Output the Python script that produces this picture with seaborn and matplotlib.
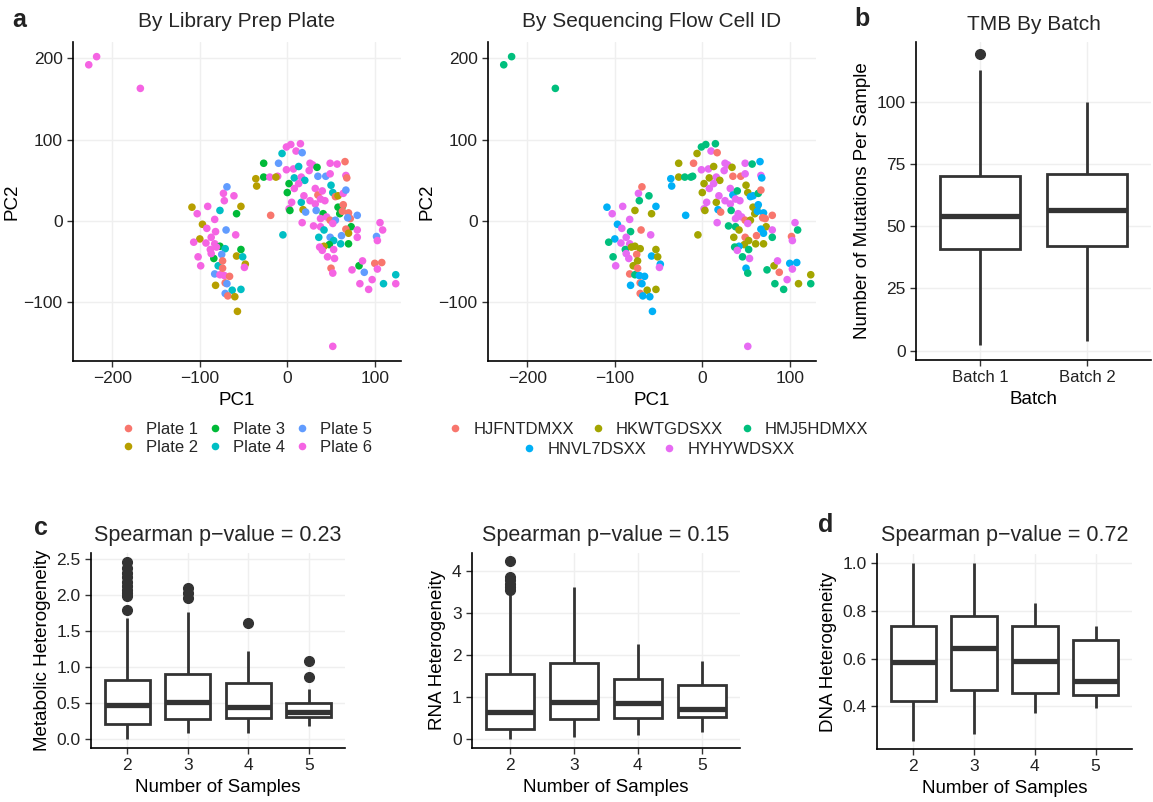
import numpy as np
import pandas as pd
import matplotlib.pyplot as plt
import seaborn as sns

# ======================
# DATA
# ======================

# PCA scores, one entry per sample
pc1 = [-227, -218, -168, 52,
       -109, -103, -91, -97, -83, -73, -69, -72, -61, -53,
       -77, -58, -92, -100, -107, -82, -70, -59, -87, -93,
       -83, -88, -77, -71, -75, -84, -102, -99, -79, -74,
       -53, -58, -51, -48, -49, -83, -77, -72, -66, -71,
       -69, -82, -63, -53, -71, -68, -60, -57, -81, -74, -87,
       -19, -27, -27, -36, -35, -20, -11, -13, -10, -6,
       -1, 4, 15, 10, 17, -1, 7, 13, 8, 16,
       20, 2, 0, 8, 13, 5, 2, 3, 16, 19,
       18, 21, 17, 26, 29, 25, 34, 35, 44, 49,
       57, 66, 49, 67, 68, 32, 35, 38, 40, 43,
       26, 32, 33, 50, 52, 55, 58, 64, 67, 58,
       63, 64, 60, 63, 70, 72, 69, 80, 73, 67,
       70, 80, 80, 70, 41, 45, 38, 49, 55, 38,
       42, 30, 52, 36, 49, 53, 62, 61, 48, 42,
       37, 40, 53, 46, 54, 50, 52, 82, 86, 74,
       88, 83, 93, 97, 100, 108, 103, 102, 103, 106,
       109, 110, 124, 124, -5]
pc2 = [192, 202, 163, -154,
       17, 9, 18, -4, 2, 34, 42, 25, 31, 18,
       13, 9, -9, -22, -26, -13, -11, -17, -20, -27,
       -28, -35, -31, -34, -41, -46, -44, -55, -55, -49,
       -35, -43, -44, -53, -57, -65, -66, -67, -68, -76,
       -77, -79, -85, -84, -89, -92, -93, -111, -32, -58, -40,
       7, 71, 54, 52, 43, 54, 55, 54, 71, 83,
       91, 94, 95, 86, 84, 63, 64, 67, 53, 54,
       50, 46, 35, 40, 46, 23, 15, 13, 23, 31,
       14, 11, -2, 71, 69, 62, 66, 55, 55, 71,
       70, 73, 58, 56, 53, 40, 32, 27, 37, 25,
       25, 21, 13, 44, 35, 30, 31, 34, 38, 17,
       18, 20, 9, 12, 10, 3, 4, 7, -7, -10,
       -15, -11, -20, -28, 9, 5, 3, 1, 1, -7,
       -11, -6, -3, -20, -20, -24, -18, -28, -29, -31,
       -32, -36, -35, -44, -46, -58, -64, -55, -49, -60,
       -63, -77, -84, -72, -52, -51, -59, -19, -24, -2,
       -11, -77, -66, -77, -17]
plate = [6, 6, 6, 6,
         2, 6, 6, 2, 6, 6, 5, 6, 6, 2,
         4, 3, 6, 2, 6, 6, 5, 6, 6, 6,
         6, 6, 3, 4, 5, 3, 6, 6, 4, 1,
         3, 2, 4, 2, 6, 5, 6, 6, 1, 1,
         5, 2, 4, 4, 5, 1, 2, 2, 6, 1, 6,
         1, 3, 3, 2, 2, 6, 6, 2, 5, 4,
         6, 6, 6, 6, 5, 6, 6, 4, 4, 6,
         4, 3, 3, 6, 6, 6, 6, 3, 4, 6,
         2, 5, 6, 6, 6, 6, 3, 5, 5, 6,
         6, 1, 6, 6, 1, 6, 1, 6, 6, 6,
         6, 6, 5, 4, 4, 1, 2, 6, 5, 3,
         3, 1, 3, 1, 1, 1, 5, 5, 3, 1,
         2, 6, 6, 3, 3, 6, 6, 1, 5, 6,
         4, 6, 6, 4, 5, 4, 5, 4, 3, 2,
         6, 6, 6, 6, 6, 1, 6, 3, 6, 6,
         5, 6, 6, 6, 1, 1, 6, 5, 6, 6,
         6, 4, 4, 6, 4]
flowcell = list("GGGP"
                "BPPBPPRGGB" "OOPBGGRPPP" "PGOORPGPOO" "OBOBPRGBBR" "BBOORBBBORP"
                "BOOBBGGGRO" "GGGPRPPOOP" "OOOPPPPOOP" "BRPPPPORRP" "GBPPBPBPGP"
                "PPGOOBBGRO" "OBOBBRRROB" "BPGOPPPROG" "OGPOROROOB" "GPGGPBGOPG"
                "RGGPBBPRPP" "GOOGO")

plate_names = ["Plate 1", "Plate 2", "Plate 3", "Plate 4", "Plate 5", "Plate 6"]
plate_colors = ["#F8766D", "#B79F00", "#00BA38", "#00BFC4", "#619CFF", "#F564E3"]
flow_codes = {"R": "HJFNTDMXX", "O": "HKWTGDSXX", "G": "HMJ5HDMXX",
              "B": "HNVL7DSXX", "P": "HYHYWDSXX"}
flow_names = ["HJFNTDMXX", "HKWTGDSXX", "HMJ5HDMXX", "HNVL7DSXX", "HYHYWDSXX"]
flow_colors = ["#F8766D", "#A3A500", "#00BF7D", "#00B0F6", "#E76BF3"]

# TMB per sample by batch
batch_labels = ["Batch 1", "Batch 2"]
tmb_batch1 = [2.4, 30, 41, 48, 54, 62, 70.3, 112.6, 119]
tmb_batch2 = [4, 42, 56.5, 71, 99.7]

# heterogeneity by number of samples
n_samples = ["2", "3", "4", "5"]
metab_2 = [0.0, 0.03, 0.05, 0.07, 0.09, 0.11, 0.13, 0.15, 0.17, 0.18, 0.20, 0.21,
           0.23, 0.25, 0.27, 0.30, 0.32, 0.35, 0.38, 0.40, 0.43, 0.45, 0.47,
           0.50, 0.53, 0.56, 0.60, 0.63, 0.66, 0.70, 0.73, 0.76, 0.79, 0.82,
           1.68, 1.79, 1.99, 2.03, 2.08, 2.13, 2.19, 2.25, 2.31, 2.38, 2.46]
metab_3 = [0.08, 0.14, 0.19, 0.24, 0.28, 0.33, 0.39, 0.45, 0.51, 0.60, 0.70, 0.80,
           0.90, 1.77, 1.97, 2.03, 2.10]
metab_4 = [0.08, 0.20, 0.29, 0.38, 0.45, 0.60, 0.78, 1.23, 1.61]
metab_5 = [0.18, 0.24, 0.28, 0.31, 0.33, 0.36, 0.38, 0.42, 0.46, 0.50, 0.69, 0.87, 1.09]

rna_2 = [0.0, 0.04, 0.08, 0.12, 0.16, 0.19, 0.22, 0.25, 0.30, 0.36, 0.42, 0.48, 0.54,
         0.60, 0.65, 0.75, 0.88, 1.00, 1.15, 1.30, 1.45, 1.56,
         3.45, 3.56, 3.62, 3.70, 3.78, 3.86, 4.23]
rna_3 = [0.04, 0.49, 0.89, 1.81, 3.61]
rna_4 = [0.09, 0.51, 0.85, 1.42, 2.27]
rna_5 = [0.16, 0.53, 0.71, 1.30, 1.86]

dna_2 = [0.256, 0.422, 0.585, 0.738, 1.0]
dna_3 = [0.284, 0.47, 0.646, 0.778, 1.0]
dna_4 = [0.371, 0.456, 0.59, 0.734, 0.832]
dna_5 = [0.393, 0.449, 0.508, 0.676, 0.738]

# ======================
# HELPERS
# ======================

def long_form(groups, labels, value):
    return pd.DataFrame({"group": np.repeat(labels, [len(g) for g in groups]),
                         value: np.concatenate(groups)})

def finish_axes(ax):
    sns.despine(ax=ax)
    ax.grid(True, color="#EFEFEF", linewidth=1.0)
    ax.set_axisbelow(True)

def plot_pca(ax, df, hue, order, colors, title):
    sns.scatterplot(data=df, x="PC1", y="PC2", hue=hue, hue_order=order,
                    palette=colors, s=30, linewidth=0, ax=ax)
    ax.set_xlim(-245, 130)
    ax.set_ylim(-172, 220)
    ax.set_xticks([-200, -100, 0, 100])
    ax.set_yticks([-100, 0, 100, 200])
    ax.set_title(title, pad=11, fontsize=15)
    ax.set_ylabel("PC2", labelpad=2)
    finish_axes(ax)
    handles, labels = ax.get_legend_handles_labels()
    ax.get_legend().remove()
    return handles, labels

def plot_box(ax, df, value, order, title, xlabel, ylabel, title_size=15.5):
    sns.boxplot(data=df, x="group", y=value, order=order, color="white",
                linecolor="#333333", linewidth=2.0, width=0.75, fliersize=7,
                showcaps=False,
                flierprops=dict(marker="o", markerfacecolor="#333333",
                                markeredgecolor="#333333"),
                medianprops=dict(linewidth=3.8), ax=ax)
    ax.set_xlim(-0.6, len(order) - 0.4)
    ax.set_title(title, pad=9, fontsize=title_size)
    ax.set_xlabel(xlabel)
    ax.set_ylabel(ylabel)
    finish_axes(ax)

# ======================
# FIGURE
# ======================

sns.set_style("ticks")
plt.rcParams['font.family'] = ['Liberation Sans', 'DejaVu Sans']
plt.rcParams.update({
    "axes.linewidth": 1.2, "axes.edgecolor": "black",
    "xtick.major.size": 4, "ytick.major.size": 4,
    "xtick.major.width": 1.0, "ytick.major.width": 1.0,
    "xtick.color": "#333333", "ytick.color": "#333333",
    "xtick.labelcolor": "#222222", "ytick.labelcolor": "#222222",
    "xtick.labelsize": 12.5, "ytick.labelsize": 12.5,
    "axes.labelsize": 13.5, "axes.labelcolor": "black",
})

W, H = 1153, 802
fig = plt.figure(figsize=(W / 100, H / 100), dpi=100)

def px_axes(left, top, right, bottom):
    return fig.add_axes([left / W, 1 - bottom / H, (right - left) / W, (bottom - top) / H])

pca = pd.DataFrame({"PC1": pc1, "PC2": pc2,
                    "Plate": [f"Plate {p}" for p in plate],
                    "Flow": [flow_codes[c] for c in flowcell]})

leg_kw = dict(frameon=False, fontsize=12, handlelength=0.8, handletextpad=0.7,
              borderaxespad=0, loc="upper center")

# a: PCA by plate
ax1 = px_axes(73, 42, 401, 361)
h, l = plot_pca(ax1, pca, "Plate", plate_names, plate_colors, "By Library Prep Plate")
ax1.legend(h, l, bbox_to_anchor=(0.53, -0.17), ncol=3, columnspacing=0.6,
           labelspacing=0.2, **leg_kw)

# a: PCA by flow cell
ax2 = px_axes(488, 42, 816, 361)
h, l = plot_pca(ax2, pca, "Flow", flow_names, flow_colors, "By Sequencing Flow Cell ID")
leg = ax2.legend(h[:3], l[:3], bbox_to_anchor=(0.52, -0.17), ncol=3,
                 columnspacing=1.0, **leg_kw)
ax2.add_artist(leg)
ax2.legend(h[3:], l[3:], bbox_to_anchor=(0.52, -0.232), ncol=2,
           columnspacing=1.0, **leg_kw)

# b: TMB by batch
ax3 = px_axes(916, 42, 1151, 360)
tmb = long_form([tmb_batch1, tmb_batch2], batch_labels, "TMB")
plot_box(ax3, tmb, "TMB", batch_labels, "TMB By Batch", "Batch",
         "Number of Mutations Per Sample", title_size=15)
ax3.set_ylim(-3.8, 124)
ax3.set_yticks([0, 25, 50, 75, 100])
ax3.tick_params(axis="x", labelsize=12)

# c: metabolic heterogeneity
ax4 = px_axes(91, 553, 345, 748)
metab = long_form([metab_2, metab_3, metab_4, metab_5], n_samples, "Metabolic")
plot_box(ax4, metab, "Metabolic", n_samples, "Spearman p\u2212value = 0.23",
         "Number of Samples", "Metabolic Heterogeneity")
ax4.set_ylim(-0.125, 2.59)
ax4.set_yticks([0.0, 0.5, 1.0, 1.5, 2.0, 2.5])
ax4.set_yticklabels(["0.0", "0.5", "1.0", "1.5", "2.0", "2.5"])

# c: RNA heterogeneity
ax5 = px_axes(472, 553, 740, 748)
rna = long_form([rna_2, rna_3, rna_4, rna_5], n_samples, "RNA")
plot_box(ax5, rna, "RNA", n_samples, "Spearman p\u2212value = 0.15",
         "Number of Samples", "RNA Heterogeneity")
ax5.set_ylim(-0.21, 4.43)
ax5.set_yticks([0, 1, 2, 3, 4])

# d: DNA heterogeneity
ax6 = px_axes(877, 554, 1132, 749)
dna = long_form([dna_2, dna_3, dna_4, dna_5], n_samples, "DNA")
plot_box(ax6, dna, "DNA", n_samples, "Spearman p\u2212value = 0.72",
         "Number of Samples", "DNA Heterogeneity")
ax6.set_ylim(0.222, 1.037)
ax6.set_yticks([0.4, 0.6, 0.8, 1.0])
ax6.set_yticklabels(["0.4", "0.6", "0.8", "1.0"])

# panel letters
for letter, x, y in [("a", 19, 20), ("b", 862, 19), ("c", 41, 528), ("d", 826, 525)]:
    fig.text(x / W, 1 - y / H, letter, fontsize=18, fontweight="bold",
             ha="center", va="center", color="#222222")

fig.savefig("out.png", dpi=100)
